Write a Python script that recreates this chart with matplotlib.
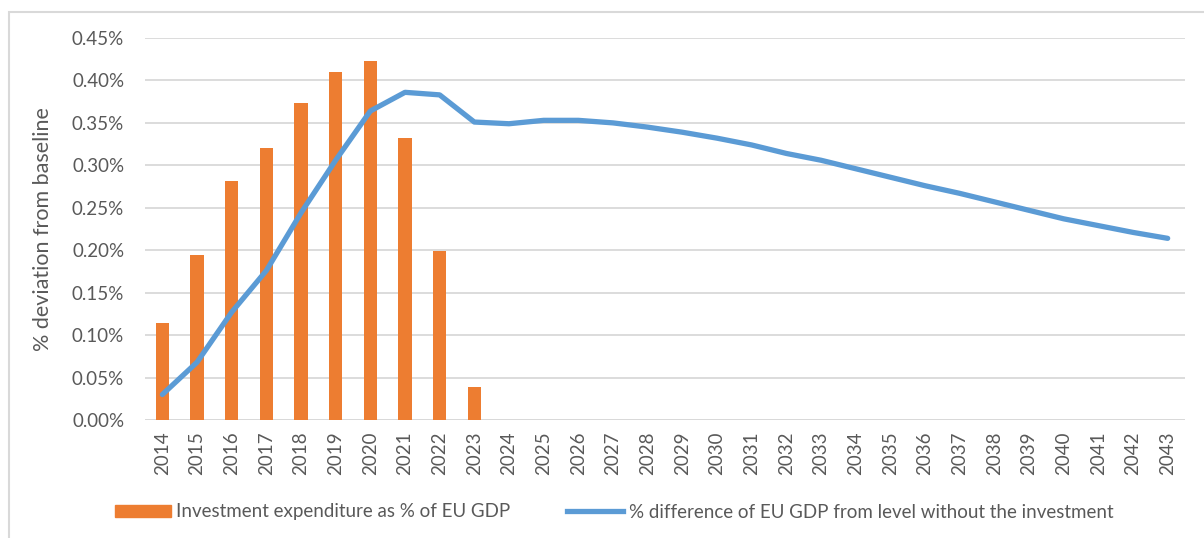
import matplotlib
matplotlib.use("Agg")
import matplotlib.pyplot as plt
from matplotlib.patches import Rectangle
from matplotlib.lines import Line2D
import numpy as np

years = [str(y) for y in range(2014, 2044)]
investment = [0.114, 0.194, 0.282, 0.320, 0.373, 0.410, 0.423, 0.332, 0.199, 0.039] + [None] * 20
gdp_diff = [0.030, 0.068, 0.127, 0.176, 0.244, 0.306, 0.364, 0.386, 0.383, 0.351,
            0.349, 0.353, 0.353, 0.350, 0.345, 0.339, 0.332, 0.324, 0.314, 0.306,
            0.296, 0.286, 0.276, 0.267, 0.257, 0.247, 0.237, 0.229, 0.221, 0.214]
yticks = [0.0, 0.05, 0.10, 0.15, 0.20, 0.25, 0.30, 0.35, 0.40, 0.45]

bar_label = "Investment expenditure as % of EU GDP"
line_label = "% difference of EU GDP from level without the investment"
ylabel = "% deviation from baseline"

ORANGE = "#ED7D31"
BLUE = "#5B9BD5"
TXT = "#595959"
GRID = "#D9D9D9"

plt.rcParams['font.family'] = ['Lato', 'DejaVu Sans']

W, H = 1204, 538
fig = plt.figure(figsize=(W / 100, H / 100), dpi=100)
ax = fig.add_axes([145 / W, 1 - 420 / H, (1185 - 145) / W, (420 - 38) / H])

x = np.arange(len(years))
bx = [i for i, v in enumerate(investment) if v is not None]
bv = [v for v in investment if v is not None]
ax.bar(bx, bv, width=0.38, color=ORANGE, zorder=2)
ax.plot(x, gdp_diff, color=BLUE, lw=3.8, solid_capstyle='round', solid_joinstyle='round', zorder=3)

ax.set_xlim(-0.5, len(years) - 0.5)
ax.set_ylim(0, 0.45)
ax.set_yticks(yticks)
ax.set_yticklabels([f"{v:.2f}%" for v in yticks], fontsize=13.5, color=TXT)
ax.set_xticks(x)
ax.set_xticklabels(years, rotation=90, fontsize=13.5, color=TXT)
ax.tick_params(axis='both', length=0)
ax.tick_params(axis='y', pad=15)
ax.tick_params(axis='x', pad=8)
ax.grid(axis='y', color=GRID, lw=1.3, zorder=0)
ax.set_axisbelow(True)
for s in ax.spines.values():
    s.set_visible(False)
ax.axhline(0, color=GRID, lw=1.3, zorder=1)

fig.text(43 / W, 1 - 229 / H, ylabel, rotation=90, ha='center', va='center', fontsize=15.5, color=TXT)

# outer border (top & left visible)
fig.add_artist(Rectangle((9 / W, -0.1), 1.2, 1 - 12 / H + 0.1, transform=fig.transFigure,
                         fill=False, edgecolor=GRID, lw=1.5))

handles = [Rectangle((0, 0), 1, 1, color=ORANGE),
           Line2D([0], [0], color=BLUE, lw=3.8)]
leg = fig.legend(handles, [bar_label, line_label], loc='center', ncol=2,
                 bbox_to_anchor=(0.51, 1 - 512 / H), frameon=False, fontsize=13.5,
                 handlelength=3.0, handleheight=0.6, handletextpad=0.3, columnspacing=3.0)
for t in leg.get_texts():
    t.set_color(TXT)

fig.savefig("out.png", dpi=100)
